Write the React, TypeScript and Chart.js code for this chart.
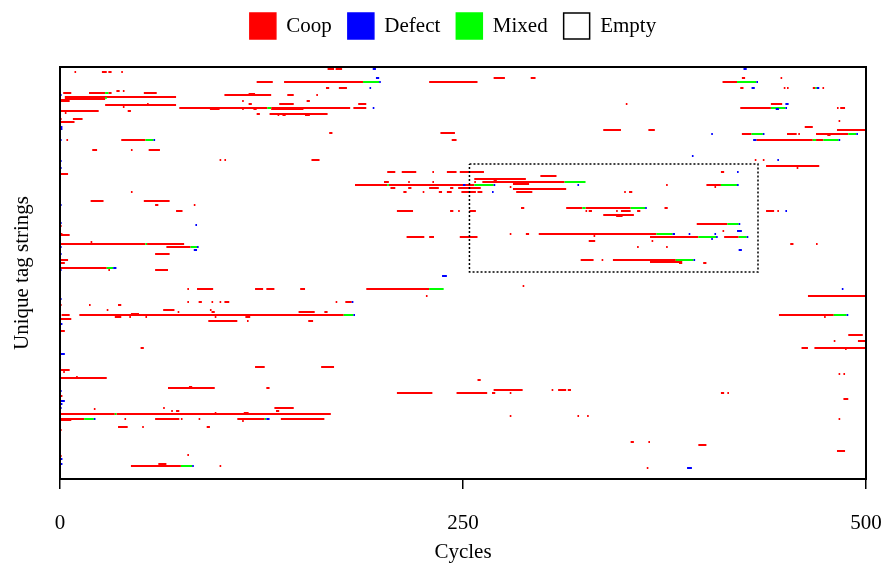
import { useEffect, useRef } from "react";
import { Chart, registerables } from "chart.js";

Chart.register(...registerables);

// [tag index, start cycle, end cycle]
const coopSegments: [number, number, number][] = [
  [5,9,10],[5,26,29],[5,30,32],[5,38,39],
  [15,122,132],[26,2,7],[26,18,28],[26,30,32],[24,35,37],[24,39,40],[26,52,60],
  [30,3,72],[31,3,28],[32,3,28],[33,0,6],[34,0,6],
  [28,102,131],[27,117,121],[34,113,114],[37,117,119],
  [38,28,72],[40,39,40],[37,54,55],
  [41,74,128.6],[41,131,180],[42,131,151],[42,93,99],[42,113,114],[42,120,122],[41,182,190],
  [44,0,24],[46,3,4],[44,42,44],[47,122,124],
  [52,0,1],[52,8,14],[55,0,9],
  [73,4,5],[73,38,53],
  [83,20,23],[83,44,45],[83,55,62],
  [93,99,100],[93,102,103],[107,0,5],[125,44,45],[134,19,27],[134,52,68],
  [2,166,170],[2,171,175],
  [15,139,188],[15,229,259],
  [21,165,167],[21,173,178],
  [28,141,145],[28,159,160],
  [34,153,155],
  [37,136,145],[37,185,190],
  [47,130,166],[48,152,155],[48,135,136],[48,138,140],
  [66,167,169],[66,236,245],[73,243,246],[93,156,161],
  [105,203,208],[105,212,221],[105,231,232],[105,240,246],[105,248,263],
  [115,201,204],[115,216,217],[115,231,232],[115,257,258],
  [118,183,203],[118,204,257],
  [121,205,208],[121,216,218],[121,229,235],[121,242,244],[121,247,261],
  [125,213,215],[125,225,226],[125,235,237],[125,240,243],[125,249,258],[125,259,262],
  [11,269,276],[11,292,295],[37,351,352],[63,337,348],[63,365,369],
  [109,298,308],[112,257,289],[115,262,313],[114,269,271],[117,281,291],[120,279,280],
  [122,281,314],[125,283,293],[125,350,351],[125,353,355],[118,376,377],
  [11,423,425],[11,447,448],[15,411,420],
  [21,422,424],[21,449,450],[21,451,452],[21,467,468.5],[21,473,474],
  [37,441,448],[41,422,441],[41,482,483],[41,484,487],[54,483,484],[60,462,467],[63,482,500],
  [67,423,429],[67,451,457],[67,458,459],[67,469,489],[68,476,478],
  [73,432,467],[73,469,473.5],
  [93,431,432],[93,436,437],[99,438,471],[101,457,458],[105,410,412],
  [118,401,410],[120,406,407],
  [138,59,61],[138,83,84],[144,72,76],[159,0,1],[168,0,6],[167,0,1.5],
  [177,0,53],[177,54,77],[175,19,20],
  [180,66,81],[187,59,68],[193,0,5],[196,0,3],
  [201,0,29],[203,30,31],[203,59,67],
  [222,79,80],[222,85,95],[222,121,126],[222,128,133],[222,149,152],[222,190,229],
  [235,79,80],[235,86,88],[235,94,95],[235,99,100],[235,102,105],[235,171,172],[235,177,181],
  [238,0,1],[238,18,19],[238,36,38],
  [243,29,30],[243,64,71],[243,93,94],[245,73,74],[245,94,96],[245,148,158],[245,164,166],
  [248,1,6],[248,12,176],[247,44,49],[250,34,38],[250,43,44],[250,53,54],[250,115,118],[250,96,97],
  [252,0,7],[254,92,110],[254,116,117],[254,154,157],[264,0,3],
  [144,209,219],[144,242,244],[144,247,248],
  [170,215,226],[170,229,232],[170,248,259],[229,227,228],
  [141,286,288],[141,314,324],[141,326,354],[141,375,377],
  [144,254,258],[144,326,327],[144,328,330],[144,345,346],[144,348,354],[144,358,360],
  [148,337,356],[149,345,349],
  [167,279,280],[167,289,291],[167,297,370],
  [169,331,332],[170,366,396],[170,412,421],
  [174,328,332],[174,367,368],[180,358,359],[180,376,377],
  [193,323,331],[193,336,337],[193,343,382],[195,366,386],[196,384,386],[196,399,401],[219,287,288],
  [144,438,443],[144,445,446],[157,395,414],[164,411,412],[177,453,455],[177,469,470],
  [229,464,500],[248,446,480],[250,474,475],[268,489,498],[274,480,481],[274,495,500],
  [281,50,52],[300,121,127],[300,162,170],[303,0,6],[305,2,3],[311,0,29],[310,10,11],
  [321,67,96],[320,80,82],[321,128,130],[329,0,1.5],
  [341,64,65],[341,133,145],[342,21,22],[344,69,70],[344,72,74],[344,134,136],
  [346,96,97],[346,114,117],[347,0,34],[347,35,168],
  [352,0,15],[353,0,7],[352,40,41],[352,59,74],[352,75,76],[352,86,87],[352,110,127],[352,137,164],[354,113,114],
  [360,36,42],[360,51,52],[360,91,93],[363,0,1],[388,79,80],[389,0,1],
  [399,44,75],[397,61,66],[399,99,100],
  [326,209,231],[326,246,265],[326,268,270],[313,259,261],
  [323,269,287],[323,305,306],[323,309,314],[323,315,317],[326,279,280],
  [349,279,280],[349,321,322],[349,327,328],[375,354,356],[375,365,366],[401,364,365],
  [281,460,464],[281,468,500],[282,487,488],[307,483,484],[307,486,487],
  [326,410,412],[326,414,415],[332,486,489],[352,483,484],[378,396,401],[384,482,487],
];

const mixedSegments: [number, number, number][] = [
  [26,28,30],[31,28,29],[41,128.6,131],[73,53,58],[15,188,198],[118,203,204],[118,257,269],[115,313,326],
  [15,420,432],[21,468.5,469.5],[41,441,450],[67,429,436],[67,489,494],[73,467,469],[73,473.5,483],[118,410,420],
  [177,53,54],[180,81,85],[201,29,33],[222,229,238],[248,176,182],
  [141,324,326],[141,354,363],[167,370,380],[170,396,407],[170,421,426],[193,382,393],
  [157,414,421],[248,480,488],
  [347,34,35],[352,15,21],[352,127,128],[399,75,82],
];

const defectSegments: [number, number, number][] = [
  [28,0,1],[60,0,1.5],[62,0,1.5],[73,0,1],[94,0,1],[101,0,1],
  [73,58,59],[15,198,199],[2,194,196],[11,196,198],[21,192,193],[41,194,195],
  [118,269,270],[118,250,251.5],[118,321,322],[125,268,269],
  [2,424,426],[15,432,433],[21,429,431],[21,469.5,471],[37,450,452],[41,450,451],[42,444,446],
  [67,404,405],[67,436,437],[67,494,495],[73,430,432],[73,483,484],[89,392,393],[93,445,446],[105,420,421],[118,420,421],
  [138,0,1],[156,0,1],[158,84,85],[180,0,1],[180,85,86],[183,83,85],[187,0,1],[201,33,35],[203,0,1],
  [232,0,1],[235,181,182],[248,182,183],[257,0,1.5],
  [209,237,240],[141,363,364],[167,380,381.5],[167,390,391],[167,406,407],[170,407,408],[170,426,427],[172,404,405],[193,393,394],
  [144,450,451],[157,421,422],[164,420,423],[183,421,423],[222,485,486],[248,488,489],
  [287,0,3],[324,0,1],[334,0,3],[337,0,1.5],[341,0,1],[352,21,22],[352,128,130],[392,0,1.5],[397,0,1.5],[399,82,83],[401,389,392],
];

const legendNames = ["Coop", "Defect", "Mixed", "Empty"];
const xTicks = [0, 250, 500];
const cycleRange = [0, 500];
const tagRange = [0, 412];
const highlightCycles = [254, 433];
const highlightTags = [97, 205];

const RED = "#ff0000";
const BLUE = "#0000ff";
const GREEN = "#00ff00";
const FONT = "'Liberation Serif', 'Times New Roman', serif";

function toLine(segs: [number, number, number][]) {
  const pts: { x: number; y: number | null }[] = [];
  for (const [t, s, e] of segs) {
    pts.push({ x: s, y: t }, { x: e, y: t }, { x: e, y: null });
  }
  return pts;
}

const framePlugin = {
  id: "frame",
  afterInit(chart: any) {
    const legend = chart.legend;
    if (legend) {
      const orig = legend.fit;
      legend.fit = function () {
        orig.call(this);
        this.height = 65;
      };
    }
  },
  afterLayout(chart: any) {
    const legend = chart.legend;
    if (legend) {
      legend.left += 17;
      legend.right += 17;
      legend.top -= 5;
      legend.bottom -= 5;
    }
  },
  afterDraw(chart: any) {
    const { ctx, chartArea } = chart;
    ctx.save();
    ctx.strokeStyle = "#000";
    ctx.lineWidth = 2;
    ctx.strokeRect(chartArea.left, chartArea.top, chartArea.right - chartArea.left, chartArea.bottom - chartArea.top);
    ctx.restore();
  },
};

export default function App() {
  const ref = useRef<HTMLCanvasElement>(null);
  useEffect(() => {
    if (!ref.current) return;
    const line = (data: any, color: string) => ({
      data,
      showLine: true,
      spanGaps: false,
      borderColor: color,
      backgroundColor: color,
      borderWidth: 2,
      borderCapStyle: "butt",
      pointRadius: 0,
      pointHoverRadius: 0,
    });
    const box = [
      { x: highlightCycles[0], y: highlightTags[0] },
      { x: highlightCycles[1], y: highlightTags[0] },
      { x: highlightCycles[1], y: highlightTags[1] },
      { x: highlightCycles[0], y: highlightTags[1] },
      { x: highlightCycles[0], y: highlightTags[0] },
    ];
    const chart = new Chart(ref.current, {
      type: "scatter",
      data: {
        datasets: [
          { ...line(box, "#000"), borderWidth: 1.5, borderDash: [2, 2] },
          line(toLine(defectSegments), BLUE),
          line(toLine(mixedSegments), GREEN),
          line(toLine(coopSegments), RED),
        ] as any,
      },
      options: {
        responsive: false,
        animation: false,
        layout: { padding: { top: 2, left: 6, right: 24, bottom: 0 } },
        plugins: {
          tooltip: { enabled: false },
          legend: {
            display: true,
            position: "top",
            labels: {
              boxWidth: 26,
              boxHeight: 26,
              padding: 16,
              color: "#000",
              font: { family: FONT, size: 21 },
              generateLabels: () =>
                legendNames.map((n, i) => ({
                  text: n,
                  fillStyle: [RED, BLUE, GREEN, "#ffffff"][i],
                  strokeStyle: [RED, BLUE, GREEN, "#000000"][i],
                  lineWidth: 1.5,
                  hidden: false,
                  datasetIndex: i,
                  fontColor: "#000",
                })),
            },
          },
        },
        scales: {
          x: {
            type: "linear",
            min: cycleRange[0],
            max: cycleRange[1],
            afterBuildTicks: (s: any) => {
              s.ticks = xTicks.map((v) => ({ value: v }));
            },
            afterFit: (s: any) => {
              s.height = 87;
              s.paddingLeft = 0;
              s.paddingRight = 0;
            },
            grid: { drawOnChartArea: false, drawTicks: true, tickLength: 10, color: "#000", lineWidth: 1.5 },
            border: { display: false },
            ticks: { color: "#000", font: { family: FONT, size: 21 }, padding: 22, maxRotation: 0 },
            title: { display: true, text: "Cycles", color: "#000", font: { family: FONT, size: 21 }, padding: { top: 4, bottom: 1 } },
          },
          y: {
            type: "linear",
            min: tagRange[0],
            max: tagRange[1],
            reverse: true,
            afterFit: (s: any) => {
              s.width = 54;
            },
            grid: { display: false },
            border: { display: false },
            ticks: { display: false },
            title: { display: true, text: "Unique tag strings", color: "#000", font: { family: FONT, size: 21 }, padding: { top: 4, bottom: 4 } },
          },
        },
      },
      plugins: [framePlugin],
    });
    return () => chart.destroy();
  }, []);
  return (
    <div style={{ position: "absolute", left: 0, top: 0, width: 890, height: 566, background: "#fff" }}>
      <canvas ref={ref} width={890} height={566} />
    </div>
  );
}
